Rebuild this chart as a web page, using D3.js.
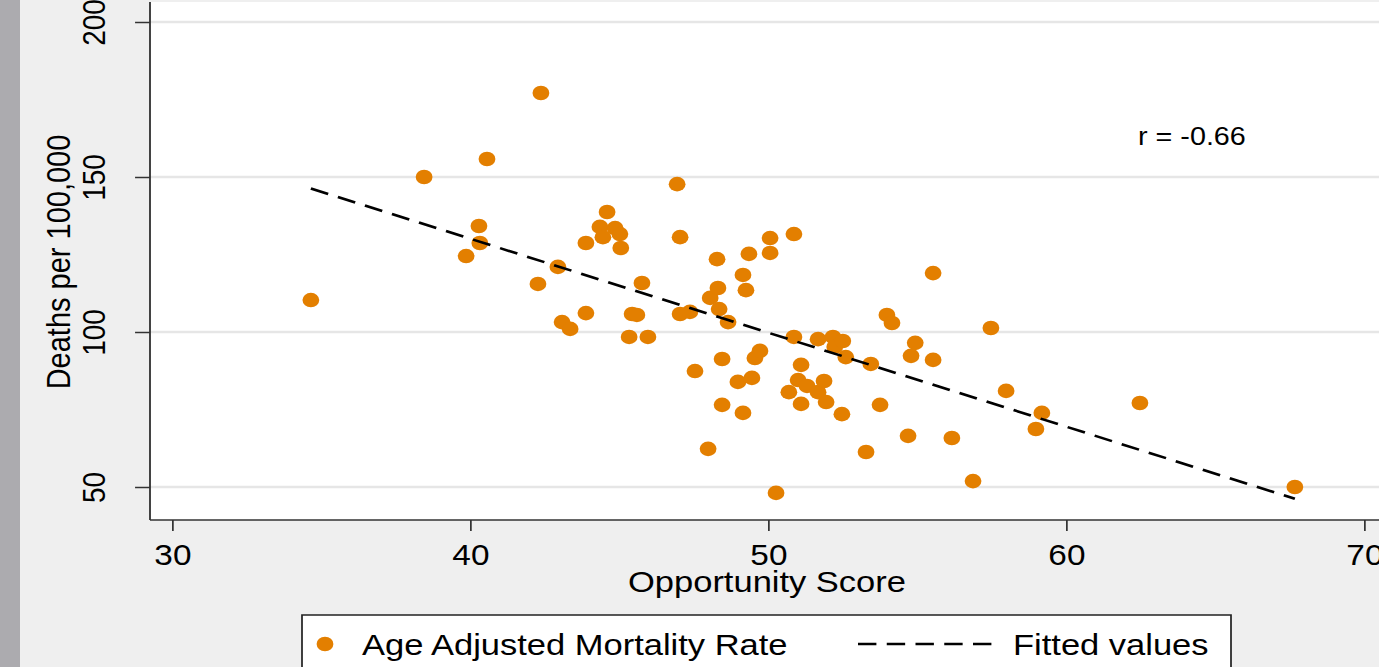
<!DOCTYPE html>
<html>
<head>
<meta charset="utf-8">
<script src="https://cdn.jsdelivr.net/npm/d3@7/dist/d3.min.js"></script>
<style>
  body { margin: 0; background: #efefef; overflow: hidden; }
  text { font-family: "Liberation Sans", Arial, sans-serif; fill: #000; }
</style>
</head>
<body>
<script>
// values (one entry per county)
var opportunityScore = [34.65, 38.45, 39.86, 40.29, 40.32, 40.56, 42.27, 42.37, 42.94, 43.08,
    43.35, 43.88, 43.88, 44.35, 44.45, 44.59, 44.86, 45.02, 45.05, 45.33,
    45.43, 45.59, 45.76, 45.96, 46.94, 47.04, 47.04, 47.37, 47.54, 47.98,
    48.05, 48.28, 48.31, 48.35, 48.45, 48.45, 48.65, 48.98, 49.15, 49.15,
    49.25, 49.35, 49.45, 49.55, 49.72, 50.06, 50.06, 50.26, 50.69, 50.86,
    50.86, 51.0, 51.1, 51.1, 51.3, 51.67, 51.67, 51.87, 51.94, 52.17,
    52.23, 52.47, 52.5, 52.6, 53.28, 53.44, 53.75, 53.98, 54.15, 54.69,
    54.79, 54.93, 55.53, 55.53, 56.16, 56.87, 57.47, 57.98, 58.98, 59.18,
    62.47, 67.67];
var mortalityRate = [110.3, 150.0, 124.5, 134.2, 128.7, 155.8, 115.5, 177.1, 121.0, 103.2,
    101.0, 128.7, 106.1, 133.9, 130.6, 138.7, 133.5, 131.6, 127.1, 98.4,
    105.8, 105.5, 115.8, 98.4, 147.7, 130.6, 105.8, 106.5, 87.4, 62.3,
    111.0, 123.5, 114.2, 107.4, 91.3, 76.5, 103.2, 83.9, 118.4, 73.9,
    113.5, 125.2, 85.2, 91.6, 93.9, 130.3, 125.5, 48.1, 80.6, 131.6,
    98.4, 84.5, 89.4, 76.8, 82.6, 97.7, 80.6, 84.2, 77.4, 98.4,
    95.2, 73.5, 97.1, 91.9, 61.3, 89.7, 76.5, 105.5, 102.9, 66.5,
    92.3, 96.5, 119.0, 91.0, 65.8, 51.9, 101.3, 81.0, 68.7, 73.9,
    77.1, 50.0];

// fitted line end points
var fitScore = [34.65, 67.67];
var fitRate = [146.3, 46.2];

var xTicks = [30, 40, 50, 60, 70];
var yTicks = [50, 100, 150, 200];
var legendLabels = ["Age Adjusted Mortality Rate", "Fitted values"];
var corrLabel = "r = -0.66";

var W = 1379, H = 667;
var SX = 1.15; // the picture is stretched sideways, so draw in a squeezed frame
var orange = "#e37f00";

var svg = d3.select("body").append("svg")
    .attr("width", W)
    .attr("height", H);

svg.append("rect")
    .attr("width", W).attr("height", H)
    .style("fill", "#efefef");

// grey strip on the far left
svg.append("rect")
    .attr("x", 0).attr("y", 0)
    .attr("width", 20).attr("height", H)
    .style("fill", "#acabaf");

var g = svg.append("g")
    .attr("transform", "scale(" + SX + ",1)");

var x = d3.scaleLinear()
    .domain([30, 70])
    .range([172.3 / SX, 1364.3 / SX]);
var y = d3.scaleLinear()
    .domain([50, 200])
    .range([487, 22]);

var plotLeft = 150 / SX, plotTop = 2, plotBottom = 520, plotRight = W / SX + 5;

// white plot region
g.append("rect")
    .attr("x", plotLeft).attr("y", plotTop)
    .attr("width", plotRight - plotLeft)
    .attr("height", plotBottom - plotTop)
    .style("fill", "#fff");

// horizontal grid lines
g.selectAll(".grid")
    .data(yTicks)
    .enter()
    .append("line")
    .attr("class", "grid")
    .attr("x1", plotLeft).attr("x2", plotRight)
    .attr("y1", function(d) { return y(d); })
    .attr("y2", function(d) { return y(d); })
    .style("stroke", "#e6e6e6")
    .style("stroke-width", 2.5);

// y axis
var yAxis = g.append("g")
    .attr("transform", "translate(" + plotLeft + ",0)")
    .call(d3.axisLeft(y).tickValues(yTicks).tickSize(13).tickPadding(0));
yAxis.select(".domain").remove();
yAxis.selectAll(".tick line").style("stroke", "#333").style("stroke-width", 1.5);
yAxis.selectAll(".tick text")
    .attr("x", null).attr("dy", null)
    .attr("text-anchor", "middle")
    .attr("transform", "translate(" + (104.5 / SX - plotLeft) + ",0) rotate(-90)")
    .style("font-size", "28px")
    .style("fill", "#000");

// x axis
var xAxis = g.append("g")
    .attr("transform", "translate(0," + plotBottom + ")")
    .call(d3.axisBottom(x).tickValues(xTicks).tickSize(11).tickPadding(0));
xAxis.select(".domain").remove();
xAxis.selectAll(".tick line").style("stroke", "#333").style("stroke-width", 1.5);
xAxis.selectAll(".tick text")
    .attr("y", 45).attr("dy", null)
    .style("font-size", "29px")
    .style("fill", "#000");

// axis lines
g.append("line")
    .attr("x1", plotLeft).attr("x2", plotLeft)
    .attr("y1", plotTop).attr("y2", plotBottom)
    .style("stroke", "#333").style("stroke-width", 1.6);
g.append("line")
    .attr("x1", plotLeft).attr("x2", plotRight)
    .attr("y1", plotBottom).attr("y2", plotBottom)
    .style("stroke", "#333").style("stroke-width", 1.6);

// axis titles
g.append("text")
    .attr("transform", "translate(" + (70 / SX) + "," + 262 + ") rotate(-90)")
    .attr("text-anchor", "middle")
    .style("font-size", "29px")
    .text("Deaths per 100,000");
g.append("text")
    .attr("x", 767 / SX).attr("y", 592)
    .attr("text-anchor", "middle")
    .style("font-size", "30px")
    .text("Opportunity Score");

// scatter points
var pts = opportunityScore.map(function(d, i) {
    return { score: d, rate: mortalityRate[i] };
});
g.selectAll(".pt")
    .data(pts)
    .enter()
    .append("circle")
    .attr("class", "pt")
    .attr("cx", function(d) { return x(d.score); })
    .attr("cy", function(d) { return y(d.rate); })
    .attr("r", 7.3)
    .style("fill", orange);

// fitted values line
var fit = fitScore.map(function(d, i) { return [d, fitRate[i]]; });
g.append("path")
    .datum(fit)
    .attr("d", d3.line()
        .x(function(d) { return x(d[0]); })
        .y(function(d) { return y(d[1]); }))
    .style("fill", "none")
    .style("stroke", "#000")
    .style("stroke-width", 2.6)
    .style("stroke-dasharray", "16,9");

// correlation label
g.append("text")
    .attr("x", 1138 / SX).attr("y", 145)
    .style("font-size", "25px")
    .text(corrLabel);

// legend
var leg = g.append("g");
leg.append("rect")
    .attr("x", 302 / SX).attr("y", 615)
    .attr("width", (1231 - 302) / SX).attr("height", 80)
    .style("fill", "#fff")
    .style("stroke", "#222")
    .style("stroke-width", 1.5);
leg.append("circle")
    .attr("cx", 325 / SX).attr("cy", 644)
    .attr("r", 7.3)
    .style("fill", orange);
leg.append("text")
    .attr("x", 362 / SX).attr("y", 655)
    .style("font-size", "30px")
    .text(legendLabels[0]);
leg.append("line")
    .attr("x1", 858 / SX).attr("x2", 992 / SX)
    .attr("y1", 644).attr("y2", 644)
    .style("stroke", "#000")
    .style("stroke-width", 2.6)
    .style("stroke-dasharray", "16,9");
leg.append("text")
    .attr("x", 1013 / SX).attr("y", 655)
    .style("font-size", "30px")
    .text(legendLabels[1]);
</script>
</body>
</html>
